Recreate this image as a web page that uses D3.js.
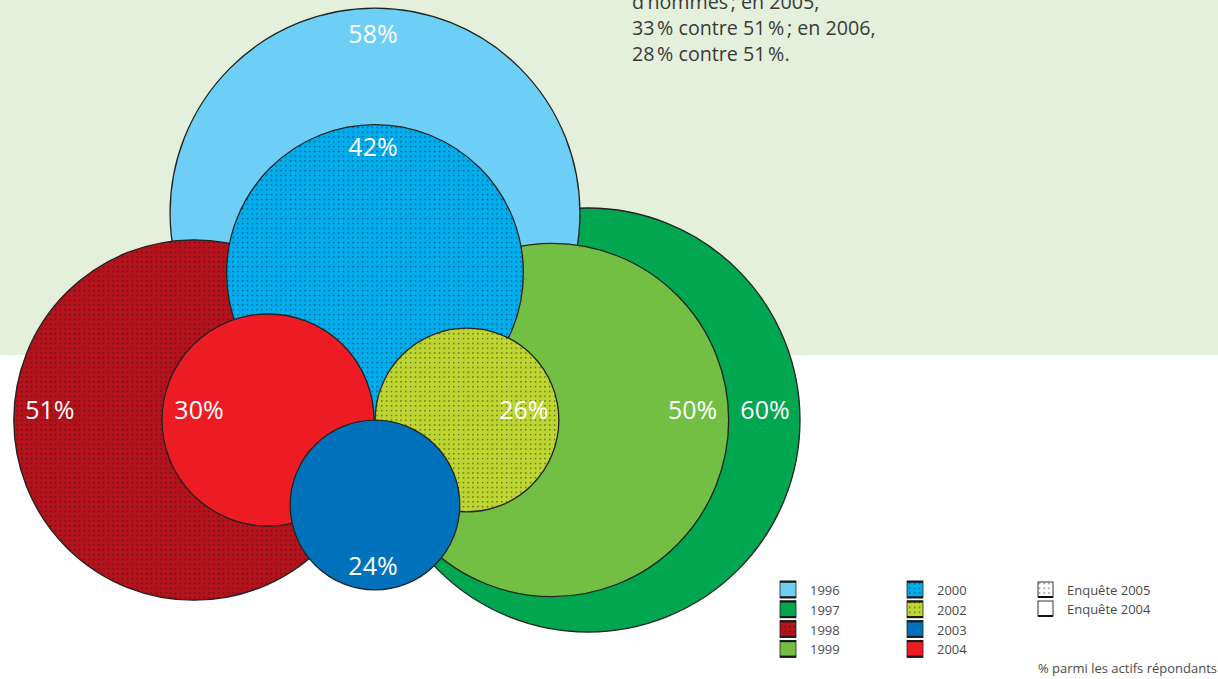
<!DOCTYPE html>
<html><head><meta charset="utf-8">
<script src="https://cdn.jsdelivr.net/npm/d3@7/dist/d3.min.js"></script>
<style>
html,body{margin:0;padding:0;background:#fff;}
svg{display:block;font-family:"Open Sans",Roboto,sans-serif;}
</style></head>
<body>
<svg id="chart" width="1218" height="679"></svg>
<script>
// ---- data ----
const years   = ["1996","1997","1998","1999","2000","2002","2003","2004"];
const values  = [58, 60, 51, 50, 42, 26, 24, 30];
const surveys = ["2004","2004","2005","2004","2005","2005","2004","2004"]; // dotted = Enquête 2005
const drawOrder = ["1997","1996","1999","1998","2000","2002","2004","2003"];
const introLines = ["d’hommes\u202f; en 2005,", "33\u202f% contre 51\u202f%\u202f; en 2006,", "28\u202f% contre 51\u202f%."];
const legendYears1 = ["1996","1997","1998","1999"];
const legendYears2 = ["2000","2002","2003","2004"];
const surveyLabels = ["Enquête 2005","Enquête 2004"];
const footnote = "% parmi les actifs répondants";

// ---- styles / layout (not data) ----
const colors = {"1996":"#6dcff6","1997":"#00a650","1998":"#b5121b","1999":"#72bf44",
                "2000":"#00aeef","2002":"#bed630","2003":"#0072bc","2004":"#ed1c24"};
// centre of each circle, side where its label sits, and inset of the label
const layout = {
  "1996":{cx:375,cy:213,lab:"top",inset:25},
  "1997":{cx:588,cy:420,lab:"right",inset:35},
  "1998":{cx:194,cy:420,lab:"left",inset:36},
  "1999":{cx:552,cy:420,lab:"right",inset:36},
  "2000":{cx:375,cy:273,lab:"top",inset:21},
  "2002":{cx:467,cy:420,lab:"right",inset:35},
  "2003":{cx:375,cy:505,lab:"bottom",inset:25},
  "2004":{cx:268,cy:420,lab:"left",inset:37}
};

const svg = d3.select("#chart");
const W = 1218, H = 679;

// background band
svg.append("rect").attr("x",0).attr("y",0).attr("width",W).attr("height",355).attr("fill","#e4f0dc");

// patterns
const defs = svg.append("defs");
function dotPattern(id, fill){
  const p = defs.append("pattern").attr("id",id).attr("patternUnits","userSpaceOnUse")
    .attr("width",4.8).attr("height",4.8);
  p.append("rect").attr("width",4.8).attr("height",4.8).attr("fill",fill);
  p.append("rect").attr("x",2).attr("y",2).attr("width",1.2).attr("height",1.2).attr("fill","#1a1a1a").attr("opacity",0.85);
}
years.forEach((y,i)=>{ if(surveys[i]==="2005") dotPattern("dot"+y, colors[y]); });
dotPattern("dotwhite","#fff");

// scale: radius linear in value
const r = d3.scaleLinear().domain([0,60]).range([0,212]);

const data = drawOrder.map(y=>{const i=years.indexOf(y); return {year:y, value:values[i], survey:surveys[i]};});

const g = svg.append("g");
g.selectAll("circle").data(data).join("circle")
  .attr("cx",d=>layout[d.year].cx).attr("cy",d=>layout[d.year].cy)
  .attr("r",d=>r(d.value))
  .attr("fill",d=>d.survey==="2005" ? `url(#dot${d.year})` : colors[d.year])
  .attr("stroke","#222").attr("stroke-width",1.3);

// labels
function labelPos(d){
  const L = layout[d.year], rad = r(d.value);
  switch(L.lab){
    case "top": return [L.cx-2, L.cy-rad+L.inset];
    case "bottom": return [L.cx-2, L.cy+rad-L.inset];
    case "left": return [L.cx-rad+L.inset, L.cy-11];
    case "right": return [L.cx+rad-L.inset, L.cy-11];
  }
}
g.selectAll("text.val").data(data).join("text").attr("class","val")
  .attr("x",d=>labelPos(d)[0]).attr("y",d=>labelPos(d)[1])
  .attr("text-anchor","middle").attr("dominant-baseline","central")
  .attr("fill","#fff").attr("font-size",25).attr("font-weight",500)
  .text(d=>d.value+"%");

// intro text
svg.append("g").selectAll("text").data(introLines).join("text")
  .attr("x",632).attr("y",(d,i)=>9+i*26)
  .attr("font-size",19.7).attr("fill","#3a3a3a").text(d=>d);

// legend
function legendCol(list, x0){
  const lg = svg.append("g");
  list.forEach((y,i)=>{
    const yy = 581 + i*19.8;
    const i0 = years.indexOf(y);
    lg.append("rect").attr("x",x0).attr("y",yy).attr("width",16).attr("height",17)
      .attr("fill",surveys[i0]==="2005" ? `url(#dot${y})` : colors[y])
      .attr("stroke","#222").attr("stroke-width",0.8);
    lg.append("line").attr("x1",x0).attr("x2",x0+16).attr("y1",yy+0.8).attr("y2",yy+0.8).attr("stroke","#1a1a1a").attr("stroke-width",2);
    lg.append("line").attr("x1",x0).attr("x2",x0+16).attr("y1",yy+16.2).attr("y2",yy+16.2).attr("stroke","#1a1a1a").attr("stroke-width",2);
    lg.append("text").attr("x",x0+30).attr("y",yy+9).attr("dominant-baseline","central")
      .attr("font-size",13).attr("fill","#4a4a4a").text(y);
  });
}
legendCol(legendYears1, 780);
legendCol(legendYears2, 907);

const sg = svg.append("g");
surveyLabels.forEach((s,i)=>{
  const yy = 582 + i*19;
  sg.append("rect").attr("x",1038).attr("y",yy).attr("width",15).attr("height",15)
    .attr("fill", i===0 ? "url(#dotwhite)" : "#fff").attr("stroke","#333").attr("stroke-width",1);
  sg.append("line").attr("x1",1038).attr("x2",1053).attr("y1",yy+15).attr("y2",yy+15).attr("stroke","#111").attr("stroke-width",2);
  sg.append("text").attr("x",1067).attr("y",yy+8).attr("dominant-baseline","central")
    .attr("font-size",13).attr("fill","#4a4a4a").text(s);
});

svg.append("text").attr("x",1217).attr("y",668).attr("dominant-baseline","central")
  .attr("text-anchor","end").attr("font-size",13).attr("fill","#4a4a4a").text(footnote);
</script>
</body></html>
